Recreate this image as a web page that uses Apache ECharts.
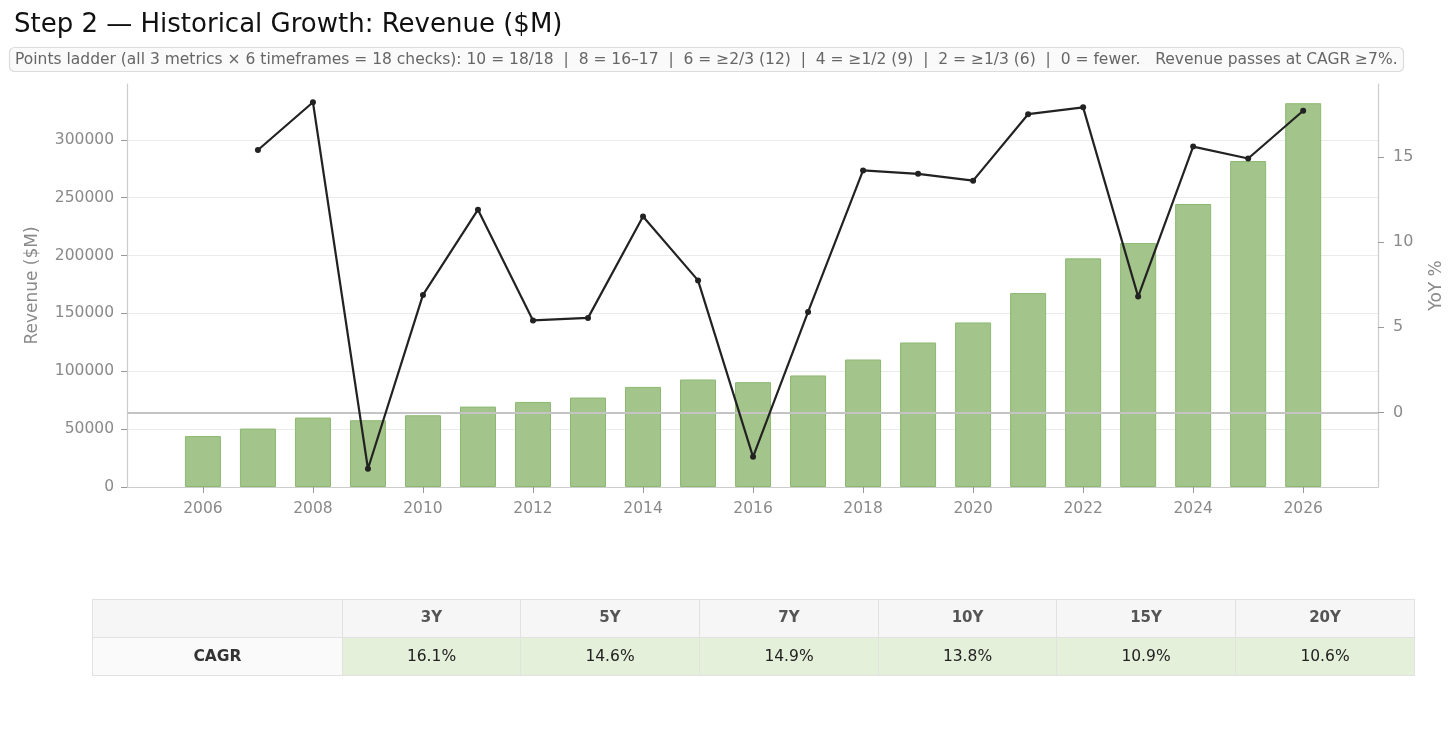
<!DOCTYPE html>
<html>
<head>
<meta charset="utf-8">
<script src="https://cdn.jsdelivr.net/npm/echarts@6/dist/echarts.min.js"></script>
<style>
    html, body { margin: 0; padding: 0; background: #fff; }
    #main { width: 1456px; height: 732px; }
</style>
</head>
<body>
<div id="main"></div>
<script>
    // data
    var years = [2006, 2007, 2008, 2009, 2010, 2011, 2012, 2013, 2014, 2015, 2016,
                 2017, 2018, 2019, 2020, 2021, 2022, 2023, 2024, 2025, 2026];
    var revenue = [44000, 50500, 60000, 57700, 62000, 69500, 73500, 77300, 86500, 92900, 90600,
                   96400, 110200, 124900, 142200, 167600, 197600, 210800, 244600, 281700, 331700];
    var yoyYears = [2007, 2008, 2009, 2010, 2011, 2012, 2013, 2014, 2015, 2016,
                    2017, 2018, 2019, 2020, 2021, 2022, 2023, 2024, 2025, 2026];
    var yoy = [15.4, 18.2, -3.3, 6.9, 11.9, 5.4, 5.55, 11.5, 7.75, -2.6,
               5.9, 14.2, 14.0, 13.6, 17.5, 17.9, 6.8, 15.6, 14.9, 17.7];
    var yearTicks = [2006, 2008, 2010, 2012, 2014, 2016, 2018, 2020, 2022, 2024, 2026];
    var revenueTicks = [0, 50000, 100000, 150000, 200000, 250000, 300000];
    var yoyTicks = [0, 5, 10, 15];
    var cagrPeriods = ['3Y', '5Y', '7Y', '10Y', '15Y', '20Y'];
    var cagrValues = ['16.1%', '14.6%', '14.9%', '13.8%', '10.9%', '10.6%'];

    var chart = echarts.init(document.getElementById('main'));

    var barData = years.map(function (y, i) { return [y, revenue[i]]; });
    var lineData = yoyYears.map(function (y, i) { return [y, yoy[i]]; });
    var cells = cagrPeriods.map(function (p, i) {
        return { coord: [p, 'CAGR'], value: cagrValues[i] };
    });

    var axisGray = '#8a8a8a';
    var font = 'DejaVu Sans';
    var cellBorder = '#e2e2e2';
    var plain = function (v) { return String(v); };

    var option = {
        animation: false,
        title: [{
            text: 'Step 2 \u2014 Historical Growth: Revenue ($M)',
            left: 9,
            top: 7,
            textStyle: { fontFamily: font, fontSize: 26, fontWeight: 'normal', color: '#111' }
        }, {
            text: 'Points ladder (all 3 metrics \u00d7 6 timeframes = 18 checks): 10 = 18/18  |  8 = 16\u201317  |  6 = \u22652/3 (12)  |  4 = \u22651/2 (9)  |  2 = \u22651/3 (6)  |  0 = fewer.   Revenue passes at CAGR \u22657%.',
            left: 9,
            top: 47,
            padding: [5, 6, 4, 6],
            backgroundColor: '#fafafa',
            borderColor: '#dcdcdc',
            borderWidth: 1.2,
            borderRadius: 5,
            textStyle: { fontFamily: font, fontSize: 15.5, fontWeight: 'normal', color: '#666' }
        }],
        grid: { left: 127, right: 78, top: 84, bottom: 245 },
        xAxis: {
            type: 'value',
            min: 2004.62,
            max: 2027.36,
            axisLine: { lineStyle: { color: '#cccccc', width: 1.2 } },
            axisTick: { customValues: yearTicks, length: 6, lineStyle: { color: '#999' } },
            axisLabel: {
                customValues: yearTicks,
                color: axisGray, fontSize: 15.5, fontFamily: font, margin: 14,
                formatter: plain
            },
            splitLine: { show: false }
        },
        yAxis: [{
            type: 'value',
            min: 0,
            max: 348300,
            name: 'Revenue ($M)',
            nameLocation: 'middle',
            nameGap: 86,
            nameTextStyle: { color: axisGray, fontSize: 17, fontFamily: font },
            axisLine: { show: true, lineStyle: { color: '#cccccc', width: 1.2 } },
            axisTick: { show: true, customValues: revenueTicks, length: 6, lineStyle: { color: '#999' } },
            axisLabel: {
                customValues: revenueTicks,
                color: axisGray, fontSize: 15.5, fontFamily: font, margin: 13,
                formatter: plain
            },
            splitLine: { lineStyle: { color: '#ebebeb', width: 1.2 } }
        }, {
            type: 'value',
            min: -4.37,
            max: 19.27,
            name: 'YoY %',
            nameLocation: 'middle',
            nameGap: 50,
            nameTextStyle: { color: axisGray, fontSize: 17, fontFamily: font },
            axisLine: { show: true, lineStyle: { color: '#cccccc', width: 1.2 } },
            axisTick: { show: true, customValues: yoyTicks, length: 6, lineStyle: { color: '#999' } },
            axisLabel: { customValues: yoyTicks, color: axisGray, fontSize: 16, fontFamily: font, margin: 15 },
            splitLine: { show: false }
        }],
        series: [{
            name: 'Revenue',
            type: 'bar',
            data: barData,
            barWidth: 36,
            itemStyle: { color: '#a3c48a', borderColor: '#8cb971', borderWidth: 1 },
            z: 2
        }, {
            name: 'YoY %',
            type: 'line',
            yAxisIndex: 1,
            data: lineData,
            symbol: 'circle',
            symbolSize: 6,
            lineStyle: { color: '#222', width: 2.2 },
            itemStyle: { color: '#222' },
            markLine: {
                silent: true,
                symbol: 'none',
                label: { show: false },
                lineStyle: { color: '#c4c4c4', width: 1.8, type: 'solid' },
                data: [{ yAxis: 0 }],
                z: 3
            },
            z: 4
        }],
        matrix: {
            left: 92,
            top: 599,
            width: 1322,
            height: 76,
            x: {
                data: cagrPeriods,
                levelSize: 38,
                itemStyle: { color: '#f6f6f6', borderColor: cellBorder, borderWidth: 1 },
                dividerLineStyle: { color: cellBorder, width: 1 },
                label: { color: '#555', fontSize: 15, fontWeight: 'bold', fontFamily: font }
            },
            y: {
                data: ['CAGR'],
                levelSize: 250,
                itemStyle: { color: '#fafafa', borderColor: cellBorder, borderWidth: 1 },
                dividerLineStyle: { color: cellBorder, width: 1 },
                label: { color: '#333', fontSize: 15.5, fontWeight: 'bold', fontFamily: font }
            },
            corner: {
                itemStyle: { color: '#f6f6f6', borderColor: cellBorder, borderWidth: 1 }
            },
            body: {
                data: cells,
                itemStyle: { color: '#e5f0da', borderColor: cellBorder, borderWidth: 1 },
                label: { color: '#222', fontSize: 15.5, fontFamily: font }
            },
            backgroundStyle: { borderColor: cellBorder, borderWidth: 1 }
        }
    };
    chart.setOption(option);
</script>
</body>
</html>
